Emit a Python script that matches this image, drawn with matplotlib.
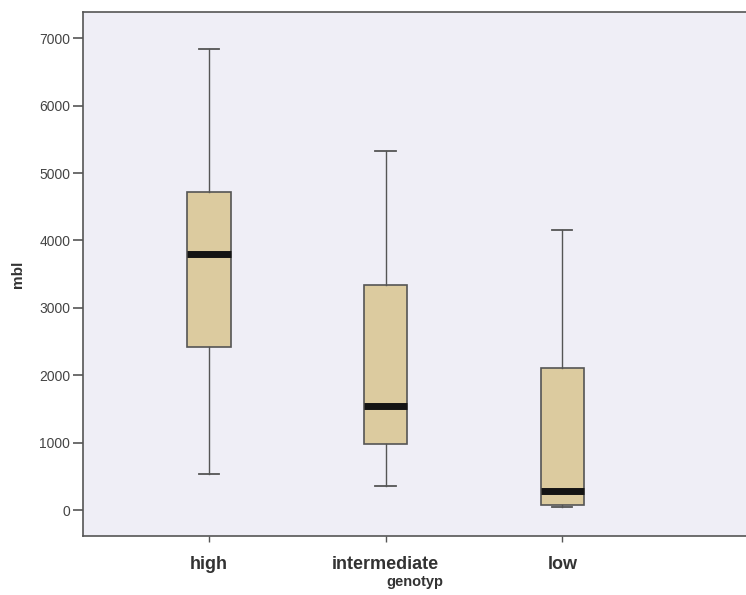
import matplotlib.pyplot as plt

# box plot summary
genotypes = ['high', 'intermediate', 'low']
whisker_low = [534, 351, 45]
q1 = [2418, 975, 74]
median = [3798, 1548, 287]
q3 = [4718, 3338, 2107]
whisker_high = [6840, 5326, 4154]
yticks = [0, 1000, 2000, 3000, 4000, 5000, 6000, 7000]

plt.rcParams['font.family'] = ['Liberation Sans', 'DejaVu Sans']

stats = []
for i, g in enumerate(genotypes):
    stats.append({'label': g, 'whislo': whisker_low[i], 'q1': q1[i], 'med': median[i],
                  'q3': q3[i], 'whishi': whisker_high[i], 'fliers': []})

fig = plt.figure(figsize=(7.46, 5.95), dpi=100)
ax = fig.add_axes([0.111, 0.099, 0.889, 0.881])
ax.set_facecolor('#efeef6')

ax.bxp(stats, positions=range(len(genotypes)), widths=0.245, patch_artist=True,
       boxprops=dict(facecolor='#dccb9f', edgecolor='#555555', linewidth=1.2),
       medianprops=dict(color='#141414', linewidth=5, solid_capstyle='butt'),
       whiskerprops=dict(color='#555555', linewidth=1.0),
       capprops=dict(color='#555555', linewidth=1.3),
       capwidths=0.115)

ax.set_xlim(-0.714, 3.04)
ax.set_ylim(-386, 7390)
ax.set_yticks(yticks)
ax.set_yticklabels([str(v) for v in yticks], fontsize=10, color='#444444')
ax.set_xticks(range(len(genotypes)))
ax.set_xticklabels(genotypes, fontsize=13, fontweight='bold', color='#333333')
ax.tick_params(axis='y', length=7, width=1.2, color='#555555', pad=2)
ax.tick_params(axis='x', length=4, width=1.0, color='#555555', pad=10)

ax.set_ylabel('mbl', fontsize=11, fontweight='bold', color='#333333', labelpad=10)
ax.set_xlabel('genotyp', fontsize=10.5, fontweight='bold', color='#333333', labelpad=2)

for side in ['left', 'bottom', 'top']:
    ax.spines[side].set_color('#555555')
    ax.spines[side].set_linewidth(1.2)
ax.spines['right'].set_visible(False)

fig.savefig('out.png', dpi=100, facecolor='white')
plt.close(fig)
